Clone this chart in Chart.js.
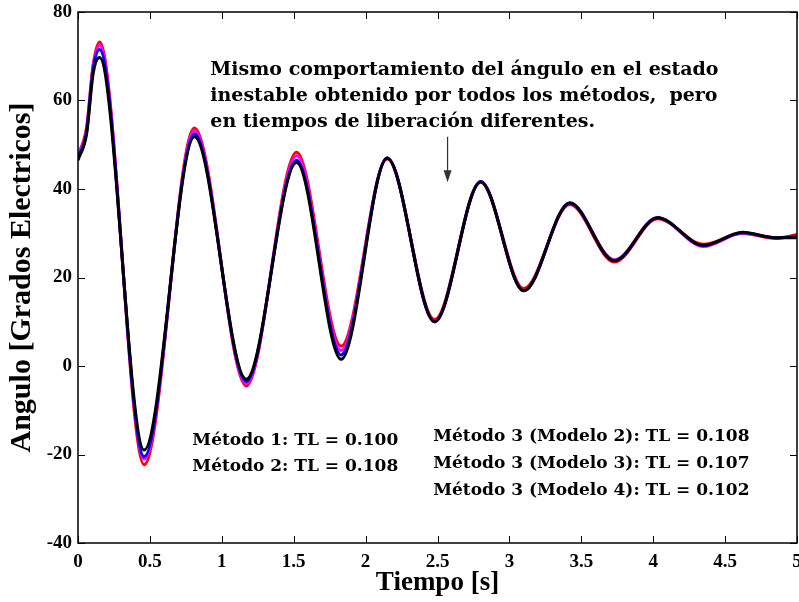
<!DOCTYPE html>
<html>
<head>
<meta charset="utf-8">
<script src="https://cdn.jsdelivr.net/npm/chart.js@4/dist/chart.umd.min.js"></script>
<style>
  html, body { margin: 0; padding: 0; background: #fff; overflow: hidden; }
  #wrap { width: 799px; height: 602px; }
</style>
</head>
<body>
<div id="wrap"><canvas id="angulo-canvas"></canvas></div>
<script>
// ========== Datos
let tiempo = [0, 0.06, 0.105, 0.15, 0.46, 0.81, 1.17, 1.52, 1.83, 2.15, 2.48, 2.80, 3.10, 3.42, 3.73, 4.03, 4.35, 4.62, 4.85, 5.0];
let serieRoja    = [47.5, 54, 68, 73.2, -22.3, 53.8, -4.5, 48.3, 4.5, 46.8, 10.5, 41.5, 17.5, 36.5, 23.5, 33.3, 27.5, 30.0, 28.8, 29.7];
let serieMagenta = [47.5, 53.5, 67.5, 72.5, -21.0, 53.2, -4.0, 47.5, 3.5, 47.0, 10.0, 41.5, 17.0, 36.8, 24.0, 33.5, 27.0, 30.0, 29.0, 29.2];
let serieAzul    = [47, 53, 67, 71.5, -20.5, 52.5, -3.5, 46.5, 2.5, 47.0, 10.0, 41.7, 17.0, 36.8, 23.8, 33.5, 27.2, 30.1, 29.0, 29.3];
let serieNegra   = [46.5, 52.5, 66, 69.7, -19.0, 51.8, -3.0, 46.0, 1.5, 47.0, 10.0, 41.6, 17.0, 36.9, 23.8, 33.5, 27.3, 30.2, 29.0, 29.0];

let ticksX = [0, 0.5, 1, 1.5, 2, 2.5, 3, 3.5, 4, 4.5, 5];
let ticksY = [-40, -20, 0, 20, 40, 60, 80];

let notaTexto = [
    'Mismo comportamiento del ángulo en el estado',
    'inestable obtenido por todos los métodos,  pero',
    'en tiempos de liberación diferentes.'
];
let metodosIzq = ['Método 1: TL = 0.100', 'Método 2: TL = 0.108'];
let metodosDer = ['Método 3 (Modelo 2): TL = 0.108', 'Método 3 (Modelo 3): TL = 0.107', 'Método 3 (Modelo 4): TL = 0.102'];

// ========== Colores
let rojoColor = '#FF0000';
let magentaColor = '#FF00FF';
let azulColor = '#0000FF';
let negroColor = '#000000';

function puntos(valores) {
    return tiempo.map((t, i) => ({ x: t, y: valores[i] }));
}

function serie(valores, color) {
    return {
        data: puntos(valores),
        borderColor: color,
        borderWidth: 3,
        pointRadius: 0,
        cubicInterpolationMode: 'monotone',
        fill: false
    };
}

// caja tipo MATLAB, ticks hacia adentro y anotaciones
const cajaPlugin = {
    id: 'caja',
    afterDraw(chart) {
        const ctx = chart.ctx;
        const area = chart.chartArea;
        const sx = chart.scales.x;
        const sy = chart.scales.y;
        ctx.save();
        ctx.strokeStyle = '#000';
        ctx.lineWidth = 1.5;
        ctx.strokeRect(area.left, area.top, area.right - area.left, area.bottom - area.top);
        ctx.lineWidth = 1;
        ctx.beginPath();
        sx.ticks.forEach(tk => {
            const px = Math.round(sx.getPixelForValue(tk.value)) + 0.5;
            ctx.moveTo(px, area.bottom); ctx.lineTo(px, area.bottom - 7);
            ctx.moveTo(px, area.top); ctx.lineTo(px, area.top + 7);
        });
        sy.ticks.forEach(tk => {
            const py = Math.round(sy.getPixelForValue(tk.value)) + 0.5;
            ctx.moveTo(area.left, py); ctx.lineTo(area.left + 7, py);
            ctx.moveTo(area.right, py); ctx.lineTo(area.right - 7, py);
        });
        ctx.stroke();

        // textos
        ctx.fillStyle = '#000';
        ctx.textBaseline = 'middle';
        ctx.textAlign = 'left';
        ctx.font = 'bold 19px "DejaVu Serif"';
        notaTexto.forEach((s, i) => {
            ctx.fillText(s, sx.getPixelForValue(0.92), sy.getPixelForValue(66.9 - i * 5.88));
        });
        ctx.font = 'bold 17px "DejaVu Serif"';
        metodosIzq.forEach((s, i) => {
            ctx.fillText(s, sx.getPixelForValue(0.795), sy.getPixelForValue(-16.95 - i * 5.85));
        });
        metodosDer.forEach((s, i) => {
            ctx.fillText(s, sx.getPixelForValue(2.47), sy.getPixelForValue(-16.05 - i * 6.1));
        });

        // flecha
        const ax = sx.getPixelForValue(2.57);
        const ay0 = sy.getPixelForValue(51.8);
        const ay1 = sy.getPixelForValue(41.5);
        ctx.strokeStyle = '#333';
        ctx.fillStyle = '#333';
        ctx.lineWidth = 1.2;
        ctx.beginPath();
        ctx.moveTo(ax, ay0); ctx.lineTo(ax, ay1 - 8);
        ctx.stroke();
        ctx.beginPath();
        ctx.moveTo(ax - 4, ay1 - 12);
        ctx.lineTo(ax + 4, ay1 - 12);
        ctx.lineTo(ax, ay1);
        ctx.closePath();
        ctx.fill();
        ctx.restore();
    }
};

var anguloCanvas = document.getElementById('angulo-canvas');
var anguloChart = new Chart(anguloCanvas, {
    type: 'line',
    data: {
        datasets: [
            serie(serieNegra, negroColor),
            serie(serieAzul, azulColor),
            serie(serieMagenta, magentaColor),
            serie(serieRoja, rojoColor)
        ]
    },
    options: {
        responsive: true,
        maintainAspectRatio: false,
        animation: false,
        layout: { autoPadding: false, padding: { top: 12, right: 2, bottom: 0, left: 0 } },
        plugins: { legend: { display: false }, tooltip: { enabled: false } },
        scales: {
            x: {
                type: 'linear',
                min: 0,
                max: 5,
                afterFit: s => { s.height = 59; s.paddingLeft = 0; s.paddingRight = 0; },
                afterBuildTicks: s => { s.ticks = ticksX.map(v => ({ value: v })); },
                grid: { display: false, drawTicks: false },
                border: { display: false },
                ticks: {
                    padding: 8,
                    color: '#000',
                    font: { family: '"Liberation Serif"', size: 19, weight: 'bold' },
                    callback: v => String(v)
                },
                title: {
                    display: true,
                    text: 'Tiempo [s]',
                    color: '#000',
                    font: { family: '"Liberation Serif"', size: 27, weight: 'bold' },
                    padding: { top: 0, bottom: 3 }
                }
            },
            y: {
                min: -40,
                max: 80,
                afterFit: s => { s.width = 78; s.paddingTop = 0; s.paddingBottom = 0; },
                afterBuildTicks: s => { s.ticks = ticksY.map(v => ({ value: v })); },
                grid: { display: false, drawTicks: false },
                border: { display: false },
                ticks: {
                    padding: 6,
                    color: '#000',
                    font: { family: '"Liberation Serif"', size: 19, weight: 'bold' },
                    callback: v => String(v)
                },
                title: {
                    display: true,
                    text: 'Angulo [Grados Electricos]',
                    color: '#000',
                    font: { family: '"Liberation Serif"', size: 30, weight: 'bold' },
                    padding: { top: 4, bottom: 0 }
                }
            }
        }
    },
    plugins: [cajaPlugin]
});
</script>
</body>
</html>
